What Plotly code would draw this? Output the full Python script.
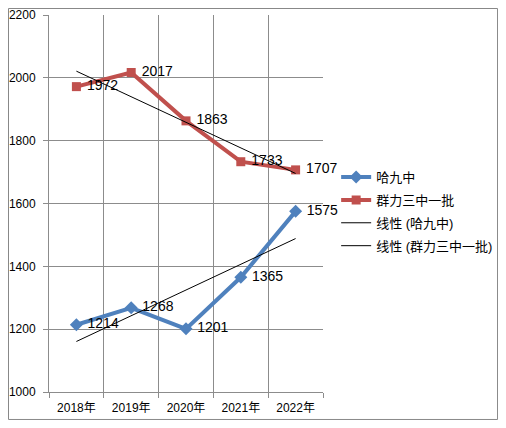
import numpy as np
import plotly.graph_objects as go

# data
years = ["2018年", "2019年", "2020年", "2021年", "2022年"]
hajiu = [1214, 1268, 1201, 1365, 1575]
qunli = [1972, 2017, 1863, 1733, 1707]

x = np.arange(len(years))
BLUE = "#4F81BD"
RED = "#C0504D"
GRID = "#8C8C8C"
FONT = "Liberation Sans, Noto Sans CJK SC, sans-serif"


def trend(y):
    k, b = np.polyfit(x, y, 1)
    return k * x + b


fig = go.Figure()

fig.add_trace(go.Scatter(
    x=x, y=hajiu, name="哈九中", mode="lines+markers+text",
    legendgroup="a",
    line=dict(color=BLUE, width=4),
    marker=dict(symbol="diamond", size=10, color=BLUE),
    text=[" " + str(v) for v in hajiu], textposition="middle right",
    textfont=dict(size=14, color="black"), cliponaxis=False,
))
fig.add_trace(go.Scatter(
    x=x, y=qunli, name="群力三中一批", mode="lines+markers+text",
    legendgroup="b",
    line=dict(color=RED, width=4),
    marker=dict(symbol="square", size=9, color=RED),
    text=[" " + str(v) for v in qunli], textposition="middle right",
    textfont=dict(size=14, color="black"), cliponaxis=False,
))
fig.add_trace(go.Scatter(
    x=x, y=trend(hajiu), name="线性 (哈九中)", mode="lines",
    legendgroup="c",
    line=dict(color="black", width=1),
))
fig.add_trace(go.Scatter(
    x=x, y=trend(qunli), name="线性 (群力三中一批)", mode="lines",
    legendgroup="d",
    line=dict(color="black", width=1),
))

# outer chart border
fig.add_shape(type="rect", xref="paper", yref="paper",
              x0=-0.1478, x1=1.637, y0=-0.0729, y1=1.0172,
              line=dict(color="#888888", width=1), layer="below")

fig.update_layout(
    width=490, height=412,
    margin=dict(l=41, r=175, t=7, b=28, autoexpand=False),
    paper_bgcolor="white", plot_bgcolor="white",
    font=dict(family=FONT, size=12, color="black"),
    showlegend=True,
    legend=dict(x=1.048, y=0.61, xanchor="left", yanchor="top",
                font=dict(size=13), traceorder="grouped",
                tracegroupgap=3, itemwidth=30,
                bgcolor="rgba(0,0,0,0)"),
)
fig.update_xaxes(
    range=[-0.5, 4.5], tickvals=list(x), ticktext=years,
    showgrid=False, zeroline=False, ticks="",
    showline=True, linecolor=GRID, linewidth=1,
    tickfont=dict(size=12), ticklabelstandoff=5,
    minor=dict(tickvals=[i - 0.5 for i in range(len(years) + 1)],
               showgrid=True, gridcolor=GRID, gridwidth=1,
               ticks="outside", ticklen=5, tickcolor=GRID),
)
fig.update_yaxes(
    range=[1000, 2200], dtick=200, showgrid=True, gridcolor=GRID,
    gridwidth=1, zeroline=False, showline=True, linecolor=GRID,
    ticks="outside", ticklen=5, tickcolor=GRID,
    tickfont=dict(size=12), ticklabelstandoff=5,
)

fig.write_html("out.html")
